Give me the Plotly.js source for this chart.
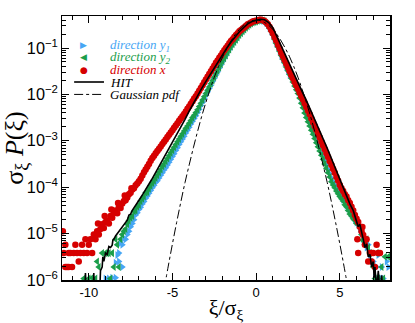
<!DOCTYPE html>
<html>
<head>
<meta charset="utf-8">
<script src="https://cdn.plot.ly/plotly-3.0.1.min.js"></script>
<style>
  html, body { margin: 0; padding: 0; background: #fff; }
  #chart { width: 415px; height: 323px; }
</style>
</head>
<body>
<div id="chart"></div>
<script>
// values are log10 of sigma*P

// shared bins for the core of the pdfs
const xBody = [
  -5.0, -4.9, -4.8, -4.7, -4.6, -4.5, -4.4, -4.3, -4.2, -4.1,
  -4.0, -3.9, -3.8, -3.7, -3.6, -3.5, -3.4, -3.3, -3.2, -3.1,
  -3.0, -2.9, -2.8, -2.7, -2.6, -2.5, -2.4, -2.3, -2.2, -2.1,
  -2.0, -1.9, -1.8, -1.7, -1.6, -1.5, -1.4, -1.3, -1.2, -1.1,
  -1.0, -0.9, -0.8, -0.7, -0.6, -0.5, -0.4, -0.3, -0.2, -0.1,
  0.0, 0.1, 0.2, 0.3, 0.4, 0.5, 0.6, 0.7, 0.8, 0.9,
  1.0, 1.1, 1.2, 1.3, 1.4, 1.5, 1.6, 1.7, 1.8, 1.9,
  2.0, 2.1, 2.2, 2.3, 2.4, 2.5, 2.6, 2.7, 2.8, 2.9,
  3.0, 3.1, 3.2, 3.3, 3.4, 3.5, 3.6, 3.7, 3.8, 3.9,
  4.0, 4.1, 4.2, 4.3, 4.4, 4.5, 4.6, 4.7, 4.8, 4.9, 5.0
];

const redBody = [
  -2.77, -2.72, -2.67, -2.62, -2.57, -2.52, -2.47, -2.42, -2.37, -2.31,
  -2.26, -2.20, -2.15, -2.09, -2.04, -1.98, -1.92, -1.86, -1.80, -1.74,
  -1.68, -1.62, -1.56, -1.50, -1.44, -1.38, -1.32, -1.27, -1.21, -1.16,
  -1.10, -1.05, -1.00, -0.95, -0.90, -0.85, -0.81, -0.76, -0.72, -0.68,
  -0.64, -0.61, -0.58, -0.55, -0.52, -0.49, -0.47, -0.45, -0.43, -0.42,
  -0.41, -0.40, -0.39, -0.39, -0.40, -0.42, -0.45, -0.49, -0.54, -0.61,
  -0.68, -0.76, -0.84, -0.93, -1.01, -1.10, -1.18, -1.26, -1.34, -1.42,
  -1.50, -1.58, -1.65, -1.73, -1.80, -1.88, -1.96, -2.04, -2.11, -2.19,
  -2.27, -2.35, -2.43, -2.52, -2.60, -2.68, -2.76, -2.85, -2.93, -3.02,
  -3.10, -3.18, -3.27, -3.35, -3.44, -3.52, -3.61, -3.69, -3.78, -3.86, -3.95
];

const greenBody = [
  -3.20, -3.14, -3.08, -3.02, -2.96, -2.90, -2.85, -2.79, -2.73, -2.68,
  -2.62, -2.56, -2.50, -2.45, -2.39, -2.33, -2.26, -2.19, -2.12, -2.05,
  -1.98, -1.91, -1.84, -1.77, -1.70, -1.63, -1.56, -1.49, -1.42, -1.35,
  -1.28, -1.22, -1.16, -1.09, -1.03, -0.97, -0.92, -0.87, -0.82, -0.77,
  -0.72, -0.68, -0.64, -0.60, -0.56, -0.53, -0.50, -0.47, -0.45, -0.44,
  -0.43, -0.41, -0.40, -0.40, -0.41, -0.42, -0.46, -0.51, -0.57, -0.64,
  -0.72, -0.81, -0.90, -0.98, -1.07, -1.16, -1.24, -1.32, -1.41, -1.49,
  -1.57, -1.65, -1.73, -1.82, -1.90, -1.98, -2.08, -2.19, -2.29, -2.40,
  -2.50, -2.59, -2.68, -2.77, -2.86, -2.95, -3.04, -3.13, -3.22, -3.31,
  -3.40, -3.50, -3.59, -3.69, -3.78, -3.88, -3.95, -4.01, -4.08, -4.14, -4.20
];

const blueBody = [
  -3.34, -3.28, -3.21, -3.15, -3.08, -3.02, -2.96, -2.90, -2.83, -2.77,
  -2.71, -2.64, -2.58, -2.52, -2.46, -2.39, -2.32, -2.24, -2.17, -2.09,
  -2.02, -1.94, -1.87, -1.80, -1.72, -1.65, -1.58, -1.51, -1.43, -1.36,
  -1.29, -1.22, -1.16, -1.09, -1.03, -0.97, -0.92, -0.87, -0.82, -0.77,
  -0.72, -0.68, -0.64, -0.60, -0.56, -0.53, -0.50, -0.47, -0.45, -0.44,
  -0.43, -0.41, -0.40, -0.40, -0.41, -0.42, -0.46, -0.51, -0.57, -0.64,
  -0.72, -0.81, -0.90, -0.98, -1.07, -1.16, -1.24, -1.32, -1.41, -1.49,
  -1.57, -1.61, -1.69, -1.78, -1.86, -1.94, -2.03, -2.13, -2.23, -2.33,
  -2.43, -2.52, -2.61, -2.70, -2.79, -2.88, -2.97, -3.06, -3.15, -3.24,
  -3.33, -3.43, -3.52, -3.62, -3.71, -3.80, -3.88, -3.95, -4.02, -4.08, -4.14
];

// tails
const redTailX = [
  -11.55, -11.5, -11.4, -11.3, -11.2, -11.1, -11.0, -10.9, -10.8, -10.7,
  -10.6, -10.5, -10.4, -10.3, -10.2, -10.1, -10.0, -9.9, -9.8, -9.7,
  -9.6, -9.5, -9.4, -9.3, -9.2, -9.1, -9.0, -8.9, -8.8, -8.7,
  -8.6, -8.5, -8.4, -8.3, -8.2, -8.1, -8.0, -7.9, -7.8, -7.7,
  -7.6, -7.5, -7.4, -7.3, -7.2, -7.1, -7.0, -6.9, -6.8, -6.7,
  -6.6, -6.5, -6.4, -6.3, -6.2, -6.1, -6.0, -5.9, -5.8, -5.7,
  -5.6, -5.5, -5.4, -5.3, -5.2, -5.1, -11.4, -11.2,
  -9.45, -9.05, -8.65, -8.25, -7.85, -7.45,
  5.1, 5.2, 5.3, 5.4, 5.5, 5.6, 5.7, 5.8, 5.9, 6.0,
  6.1, 6.2, 6.3, 6.4, 6.05, 6.1, 6.5, 6.6, 6.7, 6.8,
  6.9, 7.0, 7.1, 7.2, 7.3, 7.4, 6.35, 6.9
];
const redTailLog = [
  -4.95, -5.42, -5.24, -5.72, -5.42, -5.42, -5.72, -5.42, -5.24, -5.42,
  -5.60, -5.42, -5.24, -5.42, -5.12, -5.42, -5.24, -5.12, -5.42, -5.02,
  -5.12, -4.95, -5.02, -4.90, -4.80, -4.88, -4.75, -4.72, -4.78, -4.62,
  -4.66, -4.55, -4.50, -4.56, -4.42, -4.45, -4.35, -4.30, -4.28, -4.22,
  -4.15, -4.12, -4.05, -4.02, -3.96, -3.92, -3.87, -3.82, -3.75, -3.68,
  -3.62, -3.56, -3.50, -3.43, -3.37, -3.32, -3.27, -3.22, -3.17, -3.12,
  -3.07, -3.02, -2.97, -2.92, -2.87, -2.82, -5.72, -5.72,
  -4.78, -4.62, -4.48, -4.34, -4.18, -4.02,
  -4.02, -4.08, -4.15, -4.20, -4.28, -4.34, -4.42, -4.50, -4.60, -4.68,
  -4.75, -4.85, -4.95, -5.03, -5.12, -5.42, -5.24, -5.12, -5.60, -5.42,
  -5.42, -5.42, -5.72, -5.24, -5.42, -5.42, -4.86, -5.60
];

const greenTailX = [
  -5.1, -5.2, -5.3, -5.4, -5.5, -5.6, -5.7, -5.8, -5.9, -6.0,
  -6.1, -6.2, -6.3, -6.4, -6.5, -6.6, -6.7, -6.8, -6.9, -7.0,
  -7.1, -7.2, -7.3, -7.4, -7.5, -7.6, -7.7, -7.8, -7.9, -8.0,
  -8.1, -8.3, -8.4, -8.6, -8.8, -8.9, -9.0, -9.2, -9.5, -9.4,
  -8.5, -8.2, -9.8, -10.0, -10.3, -9.6, -8.7,
  5.1, 5.2, 5.3, 5.4, 5.5, 5.6, 5.7, 5.8, 5.9, 6.0,
  6.1, 6.2, 6.3, 6.35, 6.5, 6.6, 6.7, 6.8, 7.0, 7.2,
  7.5, 7.7, 7.1, 7.3, 7.6, 7.9
];
const greenTailLog = [
  -3.26, -3.32, -3.38, -3.44, -3.50, -3.55, -3.62, -3.68, -3.74, -3.80,
  -3.86, -3.91, -3.97, -4.03, -4.10, -4.12, -4.20, -4.25, -4.30, -4.38,
  -4.42, -4.50, -4.52, -4.62, -4.66, -4.72, -4.80, -4.90, -4.95, -5.02,
  -5.12, -5.24, -5.12, -5.42, -5.42, -5.42, -5.42, -5.42, -5.60, -5.72,
  -5.72, -5.72, -5.95, -5.97, -5.97, -5.97, -5.97,
  -4.25, -4.30, -4.38, -4.42, -4.50, -4.58, -4.62, -4.68, -4.72, -4.78,
  -4.80, -4.88, -5.02, -5.14, -5.24, -5.12, -5.30, -5.42, -5.72, -5.42,
  -5.72, -5.50, -5.97, -5.97, -5.97, -5.50
];

const blueTailX = [
  -5.1, -5.2, -5.3, -5.4, -5.5, -5.6, -5.7, -5.8, -5.9, -6.0,
  -6.1, -6.2, -6.3, -6.4, -6.5, -6.6, -6.7, -6.8, -6.9, -7.0,
  -7.1, -7.2, -7.3, -7.4, -7.5, -7.6, -7.7, -7.8, -7.9, -8.0,
  -8.1, -8.2, -8.3, -8.4, -8.6, -8.4, -8.8, -9.0, -8.0, -8.2,
  5.1, 5.2, 5.3, 5.4, 5.5, 5.6, 5.7, 5.8, 5.9, 6.0,
  6.1, 6.2, 6.3, 6.4, 6.5, 6.6, 6.7, 6.8, 6.9, 7.0,
  7.1, 7.2, 7.3, 7.4, 7.5, 7.6, 7.8, 7.9
];
const blueTailLog = [
  -3.40, -3.46, -3.52, -3.58, -3.63, -3.69, -3.74, -3.80, -3.86, -3.90,
  -3.96, -4.01, -4.07, -4.13, -4.19, -4.24, -4.31, -4.36, -4.43, -4.48,
  -4.55, -4.60, -4.70, -4.78, -4.85, -4.95, -5.02, -5.12, -5.10, -5.24,
  -5.20, -5.42, -5.46, -5.63, -5.95, -5.95, -5.97, -5.97, -5.72, -5.60,
  -4.20, -4.27, -4.33, -4.40, -4.46, -4.52, -4.58, -4.63, -4.70, -4.76,
  -4.80, -4.90, -5.00, -5.12, -5.20, -5.30, -5.24, -5.46, -5.42, -5.60,
  -5.95, -5.72, -5.46, -5.95, -5.72, -5.97, -5.60, -5.72
];

// HIT reference curve
const hitX = [
  -10.6, -10.25, -10.2, -10.1, -9.75, -9.7, -9.65, -9.5, -9.35, -9.3,
  -9.2, -9.16, -9.1, -9.0, -8.9, -8.8, -8.7, -8.6, -8.56, -8.5,
  -8.4, -8.3, -8.2, -8.1, -8.0, -7.9, -7.8, -7.7, -7.6, -7.5,
  -7.4, -7.2, -7.0, -6.75, -6.5, -6.25, -6.0, -5.75, -5.5, -5.25,
  -5.0, -4.75, -4.5, -4.25, -4.0, -3.75, -3.5, -3.25, -3.0, -2.75,
  -2.5, -2.25, -2.0, -1.75, -1.5, -1.25, -1.0, -0.75, -0.5, -0.25,
  0.0, 0.25, 0.5, 0.75, 1.0, 1.25, 1.5, 1.75, 2.0, 2.25,
  2.5, 2.75, 3.0, 3.25, 3.5, 3.75, 4.0, 4.25, 4.5, 4.75,
  5.0, 5.2, 5.4, 5.6, 5.8, 6.0, 6.1, 6.2, 6.3, 6.4,
  6.5, 6.6, 6.7, 6.8, 6.9, 7.0, 7.05, 7.1, 7.2, 7.3,
  7.4, 7.5, 7.6
];
const hitLog = [
  -6.5, -6.5, -5.85, -6.5, -6.5, -5.85, -6.5, -6.5, -6.3, -5.80,
  -5.72, -5.50, -5.60, -5.42, -5.45, -5.28, -5.30, -5.25, -5.14, -5.12,
  -5.05, -5.00, -4.95, -4.90, -4.86, -4.80, -4.75, -4.71, -4.60, -4.58,
  -4.50, -4.40, -4.28, -4.14, -4.00, -3.84, -3.68, -3.52, -3.36, -3.20,
  -3.05, -2.89, -2.72, -2.54, -2.36, -2.19, -2.03, -1.87, -1.72, -1.57,
  -1.42, -1.27, -1.13, -1.00, -0.87, -0.75, -0.65, -0.56, -0.48, -0.43,
  -0.40, -0.38, -0.39, -0.45, -0.56, -0.76, -0.96, -1.17, -1.37, -1.57,
  -1.76, -1.94, -2.13, -2.33, -2.54, -2.74, -2.95, -3.16, -3.38, -3.61,
  -3.85, -4.02, -4.20, -4.36, -4.50, -4.72, -4.85, -4.80, -5.00, -5.12,
  -5.30, -5.22, -5.50, -5.45, -5.72, -5.60, -5.95, -5.72, -6.20, -5.80,
  -6.30, -5.90, -6.40
];

// Gaussian pdf as drawn
const gaussX = [
  -5.5, -5.25, -5.0, -4.75, -4.5, -4.25, -4.0, -3.75, -3.5, -3.25,
  -3.0, -2.75, -2.5, -2.25, -2.0, -1.75, -1.5, -1.25, -1.0, -0.75,
  -0.5, -0.25, 0.0, 0.25, 0.5, 0.75, 1.0, 1.25, 1.5, 1.75,
  2.0, 2.25, 2.5, 2.75, 3.0, 3.25, 3.5, 3.75, 4.0, 4.25,
  4.5, 4.75, 5.0, 5.25, 5.5
];
const gaussLog = [
  -6.20, -5.70, -5.22, -4.76, -4.32, -3.90, -3.52, -3.15, -2.80, -2.47,
  -2.17, -1.89, -1.63, -1.40, -1.19, -1.01, -0.85, -0.71, -0.60, -0.51,
  -0.45, -0.41, -0.40, -0.41, -0.45, -0.51, -0.60, -0.71, -0.85, -1.01,
  -1.19, -1.40, -1.63, -1.89, -2.17, -2.47, -2.80, -3.15, -3.52, -3.90,
  -4.32, -4.76, -5.22, -5.70, -6.20
];

// legend entries
const legendNames = [
  "direction y<sub>1</sub>",
  "direction y<sub>2</sub>",
  "direction x",
  "HIT",
  "Gaussian pdf",
];

const blue = "#46a6f4";
const green = "#1b9e4b";
const red = "#d60000";

const pw = (arr) => arr.map((v) => Math.pow(10, v));

const traces = [
  {
    x: xBody.concat(blueTailX),
    y: pw(blueBody.concat(blueTailLog)),
    type: "scatter",
    mode: "markers",
    marker: { symbol: "triangle-right", size: 7, color: blue },
  },
  {
    x: xBody.concat(greenTailX),
    y: pw(greenBody.concat(greenTailLog)),
    type: "scatter",
    mode: "markers",
    marker: { symbol: "triangle-left", size: 7, color: green },
  },
  {
    x: xBody.concat(redTailX),
    y: pw(redBody.concat(redTailLog)),
    type: "scatter",
    mode: "markers",
    marker: { symbol: "circle", size: 6.5, color: red },
  },
  {
    x: hitX,
    y: pw(hitLog),
    type: "scatter",
    mode: "lines",
    line: { color: "#000", width: 1.6 },
  },
  {
    x: gaussX,
    y: pw(gaussLog),
    type: "scatter",
    mode: "lines",
    line: { color: "#000", width: 1, dash: "dashdot", shape: "spline" },
  },
];

// hand-made legend (Plotly's rows are too tall for this one)
const serif = "Liberation Serif, Times New Roman, serif";
const rowY = [0.890, 0.843, 0.797, 0.750, 0.703];
const textColors = [blue, green, red, "#000", "#000"];
const annotations = legendNames.map((t, i) => ({
  xref: "paper", yref: "paper",
  x: 0.142, y: rowY[i],
  xanchor: "left", yanchor: "middle",
  text: "<i>" + t + "</i>",
  showarrow: false,
  borderpad: 0,
  font: { family: serif, size: 13, color: textColors[i] },
}));
const glyphs = ["▶", "◀", "●"];
const glyphColors = [blue, green, red];
glyphs.forEach((g, i) => {
  annotations.push({
    xref: "paper", yref: "paper",
    x: 0.067, y: rowY[i],
    xanchor: "center", yanchor: "middle",
    text: g,
    showarrow: false,
    borderpad: 0,
    font: { family: "DejaVu Sans", size: 9, color: glyphColors[i] },
  });
});
const shapes = [
  { type: "line", xref: "paper", yref: "paper", x0: 0.037, x1: 0.128, y0: rowY[3], y1: rowY[3],
    line: { color: "#000", width: 1.6 } },
  { type: "line", xref: "paper", yref: "paper", x0: 0.037, x1: 0.128, y0: rowY[4], y1: rowY[4],
    line: { color: "#000", width: 1, dash: "dashdot" } },
];

const tickFont = { family: "Liberation Sans, Arial, sans-serif", size: 13, color: "#000" };

Plotly.newPlot("chart", traces, {
  width: 415,
  height: 323,
  margin: { l: 62, r: 25, t: 16, b: 43 },
  paper_bgcolor: "#fff",
  plot_bgcolor: "#fff",
  showlegend: false,
  annotations: annotations,
  shapes: shapes,
  xaxis: {
    range: [-11.6, 8.0],
    tickvals: [-10, -5, 0, 5],
    ticktext: ["-10", "-5", "0", "5"],
    ticks: "inside",
    ticklen: 7,
    tickwidth: 1,
    tickcolor: "#000",
    minor: { dtick: 1, ticks: "inside", ticklen: 4, tickcolor: "#000" },
    showline: true,
    linecolor: "#000",
    linewidth: 1.5,
    mirror: "allticks",
    showgrid: false,
    zeroline: false,
    tickfont: tickFont,
    title: {
      text: "ξ/σ<sub>ξ</sub>",
      font: { family: serif, size: 22, color: "#000" },
      standoff: 2,
    },
  },
  yaxis: {
    type: "log",
    range: [-6, -0.31],
    dtick: 1,
    exponentformat: "power",
    ticks: "inside",
    ticklen: 7,
    tickwidth: 1,
    tickcolor: "#000",
    minor: { dtick: "D1", ticks: "inside", ticklen: 4, tickcolor: "#000", showgrid: false },
    showline: true,
    linecolor: "#000",
    linewidth: 1.5,
    mirror: "allticks",
    showgrid: false,
    zeroline: false,
    tickfont: tickFont,
    title: {
      text: "σ<sub>ξ</sub> <i>P</i>(ξ)",
      font: { family: serif, size: 26, color: "#000" },
      standoff: 2,
    },
  },
}, { displayModeBar: false, staticPlot: true });
</script>
</body>
</html>
